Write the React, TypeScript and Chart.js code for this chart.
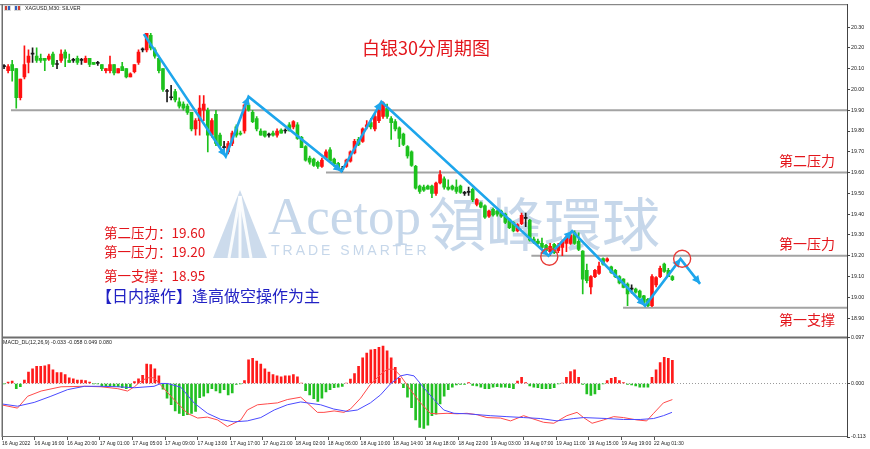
import React, { useEffect, useRef } from 'react';
import { Chart, registerables } from 'chart.js';

Chart.register(...registerables);

// ---------------- DATA ----------------
const opens = [
  20.11, 20.09, 20.12, 20.10, 19.96, 20.06, 20.13, 20.17, 20.16, 20.15,
  20.15, 20.145, 20.17, 20.12, 20.14, 20.18, 20.14, 20.14, 20.15, 20.14,
  20.13, 20.15, 20.13, 20.125, 20.12, 20.09, 20.09, 20.12, 20.08, 20.11,
  20.10, 20.06, 20.085, 20.13, 20.19, 20.19, 20.26, 20.19, 20.15, 20.10,
  19.99, 19.96, 19.99, 19.94, 19.93, 19.92, 19.89, 19.81, 19.85, 19.90,
  19.90, 19.78, 19.88, 19.78, 19.72, 19.70, 19.74, 19.82, 19.79, 19.80,
  19.925, 19.89, 19.86, 19.80, 19.80, 19.78, 19.79, 19.78, 19.805, 19.80,
  19.83, 19.82, 19.83, 19.77, 19.725, 19.67, 19.665, 19.65, 19.63, 19.67,
  19.71, 19.665, 19.645, 19.615, 19.63, 19.655, 19.695, 19.76, 19.75, 19.82,
  19.84, 19.81, 19.85, 19.87, 19.91, 19.86, 19.845, 19.815, 19.785, 19.725,
  19.70, 19.63, 19.535, 19.53, 19.535, 19.535, 19.50, 19.55, 19.57, 19.53,
  19.535, 19.53, 19.535, 19.50, 19.505, 19.52, 19.447, 19.455, 19.44, 19.39,
  19.423, 19.415, 19.415, 19.40, 19.375, 19.36, 19.32, 19.355, 19.38, 19.37,
  19.28, 19.27, 19.26, 19.25, 19.22, 19.255, 19.225, 19.24, 19.26, 19.26,
  19.31, 19.27, 19.223, 19.13, 19.05, 19.10, 19.115, 19.186, 19.175, 19.147,
  19.13, 19.10, 19.088, 19.064, 19.04, 19.04, 19.03, 19.007, 18.99, 18.96,
  19.06, 19.10, 19.16, 19.13, 19.10,
];
const highs = [
  20.12, 20.12, 20.14, 20.10, 20.05, 20.21, 20.19, 20.20, 20.20, 20.17,
  20.15, 20.17, 20.18, 20.14, 20.19, 20.19, 20.17, 20.15, 20.16, 20.15,
  20.16, 20.15, 20.13, 20.135, 20.12, 20.10, 20.16, 20.12, 20.10, 20.13,
  20.10, 20.08, 20.12, 20.19, 20.20, 20.27, 20.27, 20.20, 20.16, 20.10,
  20.00, 20.02, 20.00, 19.96, 19.94, 19.93, 19.89, 19.86, 19.97, 19.97,
  19.91, 19.86, 19.90, 19.79, 19.75, 19.75, 19.80, 19.83, 19.80, 19.93,
  19.935, 19.90, 19.87, 19.81, 19.80, 19.79, 19.80, 19.81, 19.81, 19.81,
  19.84, 19.85, 19.84, 19.775, 19.73, 19.68, 19.67, 19.655, 19.67, 19.71,
  19.72, 19.67, 19.65, 19.63, 19.665, 19.705, 19.76, 19.77, 19.815, 19.85,
  19.86, 19.88, 19.92, 19.94, 19.93, 19.87, 19.855, 19.82, 19.79, 19.73,
  19.705, 19.635, 19.54, 19.54, 19.54, 19.54, 19.555, 19.61, 19.58, 19.565,
  19.54, 19.565, 19.54, 19.51, 19.53, 19.525, 19.475, 19.46, 19.445, 19.42,
  19.43, 19.42, 19.42, 19.405, 19.38, 19.365, 19.355, 19.405, 19.405, 19.375,
  19.29, 19.28, 19.285, 19.255, 19.26, 19.26, 19.26, 19.275, 19.295, 19.31,
  19.32, 19.31, 19.225, 19.16, 19.105, 19.135, 19.17, 19.19, 19.19, 19.15,
  19.135, 19.105, 19.09, 19.07, 19.06, 19.045, 19.035, 19.01, 18.995, 19.11,
  19.10, 19.15, 19.165, 19.14, 19.105,
];
const lows = [
  20.10, 20.08, 20.04, 19.91, 19.95, 20.05, 20.08, 20.13, 20.13, 20.13,
  20.09, 20.14, 20.11, 20.10, 20.13, 20.11, 20.13, 20.13, 20.12, 20.12,
  20.13, 20.11, 20.12, 20.115, 20.09, 20.08, 20.08, 20.07, 20.08, 20.09,
  20.055, 20.06, 20.08, 20.12, 20.18, 20.18, 20.19, 20.15, 20.08, 19.99,
  19.94, 19.95, 19.94, 19.91, 19.90, 19.88, 19.80, 19.78, 19.78, 19.85,
  19.70, 19.77, 19.73, 19.72, 19.70, 19.69, 19.73, 19.77, 19.78, 19.79,
  19.895, 19.84, 19.80, 19.78, 19.77, 19.77, 19.775, 19.77, 19.79, 19.79,
  19.80, 19.81, 19.76, 19.72, 19.655, 19.64, 19.63, 19.62, 19.625, 19.665,
  19.65, 19.63, 19.615, 19.605, 19.625, 19.65, 19.69, 19.73, 19.745, 19.81,
  19.81, 19.80, 19.84, 19.86, 19.86, 19.76, 19.80, 19.725, 19.73, 19.67,
  19.63, 19.52, 19.50, 19.51, 19.52, 19.48, 19.49, 19.545, 19.52, 19.515,
  19.515, 19.50, 19.50, 19.49, 19.49, 19.46, 19.44, 19.43, 19.38, 19.385,
  19.39, 19.39, 19.385, 19.355, 19.33, 19.315, 19.315, 19.35, 19.34, 19.27,
  19.26, 19.255, 19.235, 19.22, 19.20, 19.21, 19.215, 19.20, 19.22, 19.255,
  19.255, 19.225, 19.016, 19.07, 19.016, 19.095, 19.11, 19.155, 19.17, 19.115,
  19.095, 19.065, 19.045, 18.96, 19.02, 19.02, 18.995, 18.97, 18.955, 18.955,
  19.05, 19.095, 19.12, 19.10, 19.08,
];
const closes = [
  20.11, 20.11, 20.09, 19.96, 20.05, 20.12, 20.16, 20.17, 20.14, 20.14,
  20.14, 20.16, 20.12, 20.12, 20.17, 20.15, 20.13, 20.14, 20.13, 20.14,
  20.15, 20.12, 20.12, 20.125, 20.10, 20.10, 20.12, 20.08, 20.10, 20.09,
  20.06, 20.075, 20.12, 20.18, 20.19, 20.27, 20.20, 20.16, 20.09, 20.00,
  19.99, 19.96, 19.95, 19.92, 19.91, 19.89, 19.81, 19.85, 19.91, 19.93,
  19.78, 19.85, 19.74, 19.73, 19.72, 19.74, 19.79, 19.78, 19.785, 19.925,
  19.90, 19.845, 19.81, 19.78, 19.775, 19.78, 19.78, 19.80, 19.79, 19.80,
  19.80, 19.845, 19.765, 19.72, 19.66, 19.65, 19.635, 19.63, 19.66, 19.70,
  19.655, 19.64, 19.62, 19.615, 19.66, 19.70, 19.75, 19.735, 19.81, 19.83,
  19.82, 19.87, 19.91, 19.935, 19.87, 19.84, 19.81, 19.765, 19.735, 19.68,
  19.635, 19.525, 19.51, 19.515, 19.52, 19.50, 19.55, 19.59, 19.53, 19.52,
  19.52, 19.51, 19.505, 19.50, 19.505, 19.47, 19.47, 19.434, 19.386, 19.415,
  19.396, 19.40, 19.39, 19.36, 19.335, 19.32, 19.35, 19.395, 19.38, 19.275,
  19.265, 19.26, 19.24, 19.225, 19.245, 19.215, 19.25, 19.268, 19.29, 19.30,
  19.26, 19.23, 19.088, 19.08, 19.10, 19.13, 19.15, 19.16, 19.185, 19.12,
  19.10, 19.07, 19.048, 19.016, 19.04, 19.025, 19.00, 18.976, 18.96, 19.10,
  19.095, 19.14, 19.125, 19.10, 19.085,
];

const macdHist = [
  -0.001, 0.003, 0.005, -0.011, -0.007, 0.007, 0.024, 0.031, 0.036, 0.036,
  0.037, 0.040, 0.029, 0.023, 0.023, 0.019, 0.012, 0.010, 0.007, 0.007,
  0.006, 0.003, -0.001, -0.001, -0.006, -0.006, -0.006, -0.006, -0.007, -0.009,
  -0.011, -0.009, 0.004, 0.010, 0.017, 0.041, 0.040, 0.031, 0.016, -0.012,
  -0.031, -0.045, -0.058, -0.063, -0.068, -0.066, -0.063, -0.059, -0.030, -0.027,
  -0.020, -0.011, -0.016, -0.020, -0.013, -0.024, -0.020, -0.002, -0.001, 0.006,
  0.050, 0.053, 0.047, 0.041, 0.031, 0.024, 0.019, 0.016, 0.014, 0.016,
  0.016, 0.019, 0.014, 0.001, -0.015, -0.024, -0.032, -0.038, -0.031, -0.018,
  -0.013, -0.009, -0.008, -0.006, 0.001, 0.009, 0.021, 0.036, 0.054, 0.064,
  0.071, 0.072, 0.076, 0.079, 0.069, 0.054, 0.034, 0.011, -0.009, -0.029,
  -0.051, -0.077, -0.093, -0.095, -0.088, -0.068, -0.065, -0.043, -0.027, -0.013,
  -0.008, -0.003, -0.002, -0.002, 0.002, -0.004, -0.005, -0.008, -0.011, -0.011,
  -0.008, -0.007, -0.008, -0.008, -0.009, -0.011, 0.005, 0.013, 0.002, -0.005,
  -0.008, -0.009, -0.011, -0.011, -0.011, -0.009, -0.001, 0.001, 0.013, 0.025,
  0.029, 0.013, -0.002, -0.022, -0.025, -0.022, -0.013, -0.001, 0.006, 0.011,
  0.013, 0.006, 0.002, -0.002, -0.003, -0.005, -0.008, -0.008, -0.008, 0.013,
  0.029, 0.044, 0.055, 0.053, 0.049,
];

const macdRedIdx = [
  -0.7, 3.3, 5.8, 9.1, 14.0, 19.7, 23.8, 27.9, 30.3, 32.0,
  33.6, 35.2, 36.8, 38.5, 41.7, 45.0, 47.5, 49.9, 52.4, 54.8,
  58.1, 59.7, 62.2, 64.6, 67.1, 69.5, 72.8, 74.4, 76.9, 78.5,
  81.0, 83.4, 85.0, 87.5, 89.9, 92.4, 94.0, 95.7, 97.3, 99.7,
  102.2, 104.6, 106.3, 108.7, 111.2, 113.6, 116.1, 118.5, 121.8, 124.3,
  127.5, 129.2, 132.4, 134.9, 138.1, 140.6, 142.2, 144.3, 147.1, 149.6,
  152.0, 155.3, 157.7, 159.4, 161.8, 164.0,
];
const macdRedVal = [
  -0.045, -0.052, -0.027, -0.016, -0.007, -0.006, -0.007, -0.011, -0.016, -0.007,
  0.005, 0.012, 0.012, -0.004, -0.034, -0.063, -0.073, -0.071, -0.077, -0.091,
  -0.077, -0.056, -0.045, -0.043, -0.041, -0.034, -0.029, -0.041, -0.061, -0.061,
  -0.058, -0.061, -0.054, -0.031, -0.002, 0.019, 0.030, 0.030, 0.016, -0.013,
  -0.041, -0.063, -0.064, -0.063, -0.064, -0.063, -0.066, -0.072, -0.073, -0.079,
  -0.068, -0.073, -0.082, -0.084, -0.068, -0.061, -0.072, -0.084, -0.077, -0.070,
  -0.072, -0.077, -0.079, -0.063, -0.041, -0.034,
];
const macdBlueIdx = [
  -0.7, 3.3, 7.4, 11.5, 15.6, 19.7, 23.8, 27.9, 32.0, 36.8,
  38.5, 40.1, 43.4, 46.6, 49.9, 53.2, 56.4, 59.7, 63.0, 66.3,
  69.5, 72.8, 77.7, 80.9, 84.2, 86.7, 89.9, 92.4, 94.8, 97.3,
  98.9, 100.6, 103.0, 105.5, 107.9, 110.4, 113.6, 119.3, 123.4, 127.5,
  131.6, 135.7, 139.8, 142.2, 147.9, 152.0, 156.1, 159.4, 161.8, 163.9,
];
const macdBlueVal = [
  -0.043, -0.048, -0.040, -0.027, -0.013, -0.006, -0.006, -0.007, -0.009, -0.006,
  0.000, 0.000, -0.008, -0.041, -0.063, -0.076, -0.081, -0.079, -0.072, -0.056,
  -0.045, -0.039, -0.045, -0.054, -0.059, -0.056, -0.041, -0.024, -0.001, 0.016,
  0.019, 0.016, -0.009, -0.034, -0.056, -0.063, -0.064, -0.068, -0.070, -0.072,
  -0.074, -0.079, -0.074, -0.072, -0.074, -0.076, -0.076, -0.074, -0.068, -0.061,
];

// zigzag trend line (bar index, price)
const zigIdx = [34.3, 54.4, 60.0, 82.8, 92.6, 133.6, 139.4, 157.3, 166.0, 170.8];
const zigPrice = [20.266, 19.678, 19.965, 19.606, 19.941, 19.20, 19.319, 18.96, 19.185, 19.065];

// horizontal levels
const levelPrices = [19.90, 19.60, 19.20, 18.95];
const levelStartIdx = [1.7, 79.0, 129.4, 151.9];
const levelNames = ['', '第二压力', '第一压力', '第一支撑'];

// red circles
const circleIdx = [133.8, 166.4];
const circlePrice = [19.195, 19.186];

const yTicks = [18.9, 19.0, 19.1, 19.2, 19.3, 19.4, 19.5, 19.6, 19.7, 19.8, 19.9, 20.0, 20.1, 20.2, 20.3];
const macdTicks = [-0.113, 0, 0.097];
const xTickIdx = [-0.5, 7.5, 15.5, 23.5, 31.5, 39.5, 47.5, 55.5, 63.5, 71.5, 79.5, 87.5, 95.5, 103.5, 111.5, 119.5, 127.5, 135.5, 143.5, 151.5, 159.5];
const xTickLabels = [
  '16 Aug 2022', '16 Aug 16:00', '16 Aug 20:00', '17 Aug 01:00', '17 Aug 05:00', '17 Aug 09:00',
  '17 Aug 13:00', '17 Aug 17:00', '17 Aug 21:00', '18 Aug 02:00', '18 Aug 06:00', '18 Aug 10:00',
  '18 Aug 14:00', '18 Aug 18:00', '18 Aug 22:00', '19 Aug 03:00', '19 Aug 07:00', '19 Aug 11:00',
  '19 Aug 15:00', '19 Aug 19:00', '22 Aug 01:30',
];

const infoLines = ['第二压力：19.60', '第一压力：19.20', '第一支撑：18.95'];
const strategyText = '【日内操作】逢高做空操作为主';
const titleText = '白银30分周期图';
const symbolText = 'XAGUSD,M30: SILVER';
const macdLabel = 'MACD_DL(12,26,9) -0.033 -0.058 0.049 0.080';

// ---------------- STYLE ----------------
const X_MIN = -0.5;
const X_MAX = 206.85;
const Y_MIN = 18.807;
const Y_MAX = 20.41;
const UP = '#ff1010';
const DOWN = '#1dc21d';
const DOJI = '#1a1a1a';
const ZIG = '#1ea6ec';
const CJK = '"Noto Sans CJK SC", "Noto Sans CJK TC", sans-serif';

const candleColor = (i: number) =>
  closes[i] > opens[i] ? UP : closes[i] < opens[i] ? DOWN : DOJI;

const overlayPlugin = {
  id: 'overlay',
  beforeDatasetsDraw(chart: any) {
    const ctx = chart.ctx;
    const { left, right } = chart.chartArea;
    ctx.save();
    // watermark logo
    ctx.fillStyle = 'rgba(120,160,205,0.38)';
    ctx.beginPath();
    ctx.moveTo(240, 190);
    ctx.lineTo(213, 258);
    ctx.lineTo(267, 258);
    ctx.closePath();
    ctx.fill();
    ctx.strokeStyle = 'rgba(255,255,255,0.9)';
    ctx.lineWidth = 3;
    [[240, 196, 229, 258], [240, 196, 240, 258], [240, 196, 251, 258]].forEach(([a, b, c, d]) => {
      ctx.beginPath();
      ctx.moveTo(a, b);
      ctx.lineTo(c, d);
      ctx.stroke();
    });
    ctx.fillStyle = 'rgba(120,160,205,0.42)';
    ctx.textBaseline = 'alphabetic';
    ctx.textAlign = 'left';
    ctx.font = '53px "Liberation Serif", serif';
    ctx.fillText('Acetop', 268, 234);
    ctx.font = `58px ${CJK}`;
    ctx.textBaseline = 'middle';
    ctx.fillText('領峰環球', 428, 224);
    ctx.font = '14px "Liberation Sans", sans-serif';
    (ctx as any).letterSpacing = '3px';
    ctx.fillText('TRADE SMARTER', 271, 251);
    (ctx as any).letterSpacing = '0px';

    // macd zero dotted line
    const y0 = chart.scales.y2.getPixelForValue(0);
    ctx.strokeStyle = '#9a9a9a';
    ctx.lineWidth = 1;
    ctx.setLineDash([1, 2]);
    ctx.beginPath();
    ctx.moveTo(left, Math.round(y0) + 0.5);
    ctx.lineTo(right, Math.round(y0) + 0.5);
    ctx.stroke();
    ctx.setLineDash([]);
    ctx.restore();
  },
  afterDatasetsDraw(chart: any) {
    const ctx = chart.ctx;
    const xs = chart.scales.x;
    const ys = chart.scales.y;
    ctx.save();
    // arrowheads on zigzag
    const zigMeta = chart.getDatasetMeta(chart.data.datasets.length - 1);
    const pts = zigMeta.data;
    ctx.fillStyle = ZIG;
    for (let j = 1; j < pts.length; j++) {
      const p0 = pts[j - 1];
      const p1 = pts[j];
      const ang = Math.atan2(p1.y - p0.y, p1.x - p0.x);
      const L = 8;
      const W = 4;
      const bx = p1.x - L * Math.cos(ang);
      const by = p1.y - L * Math.sin(ang);
      ctx.beginPath();
      ctx.moveTo(p1.x, p1.y);
      ctx.lineTo(bx + W * Math.sin(ang), by - W * Math.cos(ang));
      ctx.lineTo(bx - W * Math.sin(ang), by + W * Math.cos(ang));
      ctx.closePath();
      ctx.fill();
    }
    // red circles
    ctx.strokeStyle = '#e83a36';
    ctx.lineWidth = 1.4;
    circleIdx.forEach((ci, k) => {
      ctx.beginPath();
      ctx.arc(xs.getPixelForValue(ci), ys.getPixelForValue(circlePrice[k]), 8.5, 0, Math.PI * 2);
      ctx.stroke();
    });
    // title
    ctx.fillStyle = '#e3161c';
    ctx.textBaseline = 'middle';
    ctx.textAlign = 'left';
    ctx.font = `18px ${CJK}`;
    ctx.fillText(titleText, 362, 48);
    // level names at right
    ctx.font = `14px ${CJK}`;
    levelPrices.forEach((p, k) => {
      if (!levelNames[k]) return;
      const yy = ys.getPixelForValue(p);
      const off = k === 3 ? 12 : -12;
      ctx.fillText(levelNames[k], 779, yy + off);
    });
    // info text block
    ctx.font = `13.5px ${CJK}`;
    const infoY = [233, 252, 276];
    infoLines.forEach((t, k) => ctx.fillText(t, 104, infoY[k]));
    ctx.fillStyle = '#2121c4';
    ctx.font = `16px ${CJK}`;
    ctx.fillText(strategyText, 96, 296);
    ctx.restore();
  },
  afterDraw(chart: any) {
    const ctx = chart.ctx;
    const { left, right, top, bottom } = chart.chartArea;
    const sep = chart.scales.y.bottom;
    ctx.save();
    ctx.fillStyle = '#6e6e6e';
    ctx.fillRect(0, top, right, 1);
    ctx.fillRect(left - 0.5, top, 1.5, bottom - top);
    ctx.fillRect(left, sep - 1, right - left, 2);
    ctx.fillRect(left, bottom - 1, right - left, 1);
    // header
    ctx.fillStyle = '#d9d9d9';
    ctx.fillRect(4, 5, 7, 6);
    ctx.fillRect(14, 5, 7, 6);
    ctx.fillStyle = '#d04030';
    ctx.fillRect(5, 6, 2, 4);
    ctx.fillStyle = '#3060c0';
    ctx.fillRect(8, 6, 2, 4);
    ctx.fillStyle = '#3060c0';
    ctx.fillRect(15, 6, 2, 4);
    ctx.fillStyle = '#d04030';
    ctx.fillRect(18, 6, 2, 4);
    ctx.fillStyle = '#222';
    ctx.font = '5.3px "Liberation Sans", sans-serif';
    ctx.textBaseline = 'middle';
    ctx.textAlign = 'left';
    ctx.fillText(symbolText, 25, 8.5);
    ctx.fillText(macdLabel, 3, 343);
    ctx.restore();
  },
};

export default function App() {
  const ref = useRef<HTMLCanvasElement>(null);
  useEffect(() => {
    document.body.style.margin = '0';
    const idx = opens.map((_, i) => i);
    const levelSets = levelPrices.map((p, k) => ({
      type: 'line',
      data: [{ x: levelStartIdx[k], y: p }, { x: X_MAX, y: p }],
      borderColor: '#a3a3a3',
      borderWidth: 2,
      pointRadius: 0,
      yAxisID: 'y',
      order: 20,
    }));
    const datasets: any[] = [
      ...levelSets,
      {
        type: 'bar',
        data: idx.map((i) => ({ x: i, y: [lows[i], highs[i]] })),
        backgroundColor: idx.map(candleColor),
        barThickness: 1,
        grouped: false,
        borderWidth: 0,
        yAxisID: 'y',
        order: 12,
      },
      {
        type: 'bar',
        data: idx.map((i) => ({ x: i, y: [opens[i], closes[i]] })),
        backgroundColor: idx.map(candleColor),
        barThickness: 3,
        minBarLength: 1,
        grouped: false,
        borderWidth: 0,
        yAxisID: 'y',
        order: 11,
      },
      {
        type: 'bar',
        data: idx.map((i) => ({ x: i, y: macdHist[i] })),
        backgroundColor: macdHist.map((v) => (v >= 0 ? '#ff1a1a' : '#22c022')),
        barThickness: 2,
        grouped: false,
        borderWidth: 0,
        yAxisID: 'y2',
        order: 10,
      },
      {
        type: 'line',
        data: macdRedIdx.map((x, k) => ({ x, y: macdRedVal[k] })),
        borderColor: '#ff4a4a',
        borderWidth: 1,
        pointRadius: 0,
        yAxisID: 'y2',
        order: 5,
      },
      {
        type: 'line',
        data: macdBlueIdx.map((x, k) => ({ x, y: macdBlueVal[k] })),
        borderColor: '#4a4aff',
        borderWidth: 1,
        pointRadius: 0,
        yAxisID: 'y2',
        order: 4,
      },
      {
        type: 'line',
        data: zigIdx.map((x, k) => ({ x, y: zigPrice[k] })),
        borderColor: ZIG,
        borderWidth: 2.6,
        pointRadius: 0,
        yAxisID: 'y',
        order: 1,
      },
    ];
    Chart.defaults.font.family = '"Liberation Sans", Arial, sans-serif';
    const chart = new Chart(ref.current as HTMLCanvasElement, {
      type: 'bar',
      data: { datasets },
      plugins: [overlayPlugin],
      options: {
        responsive: false,
        animation: false,
        devicePixelRatio: 1,
        events: [],
        layout: { autoPadding: false, padding: { left: 2, top: 2, right: 0, bottom: 0 } },
        plugins: { legend: { display: false }, tooltip: { enabled: false } },
        scales: {
          x: {
            type: 'linear',
            min: X_MIN,
            max: X_MAX,
            offset: false,
            grid: { display: true, drawOnChartArea: false, drawTicks: true, tickLength: 3, color: '#555', offset: false },
            border: { display: false },
            ticks: {
              autoSkip: false,
              maxRotation: 0,
              minRotation: 0,
              align: 'start',
              padding: 1,
              color: '#222',
              font: { size: 5 },
              callback: (_v: any, i: number) => xTickLabels[i] ?? '',
            },
            afterBuildTicks: (s: any) => {
              s.ticks = xTickIdx.map((v) => ({ value: v }));
            },
            afterFit: (s: any) => {
              s.height = 12;
            },
          },
          y: {
            type: 'linear',
            position: 'right',
            stack: 'panes',
            stackWeight: 335,
            min: Y_MIN,
            max: Y_MAX,
            grid: { drawOnChartArea: false, drawTicks: true, tickLength: 3, color: '#444' },
            border: { display: true, color: '#444' },
            ticks: { padding: 1, color: '#222', font: { size: 5.3 }, callback: (v: any) => Number(v).toFixed(2) },
            afterBuildTicks: (s: any) => {
              s.ticks = yTicks.map((v) => ({ value: v }));
            },
            afterFit: (s: any) => {
              s.width = 23;
            },
          },
          y2: {
            type: 'linear',
            position: 'right',
            stack: 'panes',
            stackWeight: 100,
            min: -0.113,
            max: 0.097,
            grid: { drawOnChartArea: false, drawTicks: true, tickLength: 3, color: '#444' },
            border: { display: true, color: '#444' },
            ticks: { padding: 1, color: '#222', font: { size: 5.3 }, callback: (v: any) => Number(v).toFixed(3) },
            afterBuildTicks: (s: any) => {
              s.ticks = macdTicks.map((v) => ({ value: v }));
            },
            afterFit: (s: any) => {
              s.width = 23;
            },
          },
        },
      } as any,
    } as any);
    return () => chart.destroy();
  }, []);
  return (
    <div style={{ position: 'absolute', left: 0, top: 0, width: 870, height: 449, background: '#fff' }}>
      <canvas ref={ref} width={870} height={449} style={{ display: 'block', width: 870, height: 449 }} />
    </div>
  );
}
